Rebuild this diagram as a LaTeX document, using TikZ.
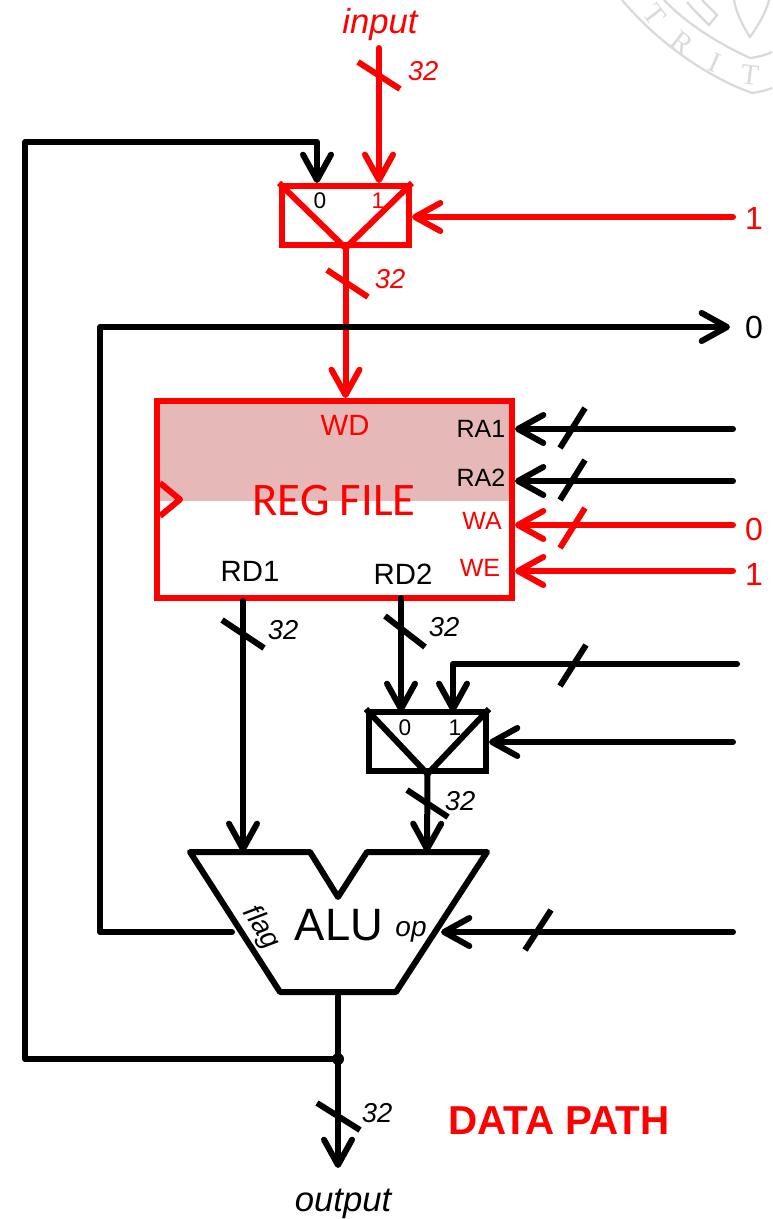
\documentclass[tikz,border=0pt]{standalone}
\usepackage{fontspec}
\setmainfont{Liberation Sans}
\newfontfamily\carlito{Carlito}
\newfontfamily\sealfont{Liberation Serif}
\usetikzlibrary{arrows.meta}
\def\px{0.75pt}
\definecolor{regred}{RGB}{255,0,0}
\definecolor{regshade}{RGB}{230,184,183}
\definecolor{sealgray}{RGB}{218,218,218}
\tikzset{
  wire/.style={line width=6*\px,line cap=round,line join=round},
  redwire/.style={wire,draw=regred},
  sealline/.style={sealgray,line width=1.7pt},
  box/.style={draw,line width=6*\px,inner sep=0pt,miter limit=10},
  muxbox/.style={box,minimum width=127*\px,minimum height=59*\px},
  lbl/.style={inner sep=0pt,font=\fontsize{18.75}{25}\selectfont},
  width/.style={inner sep=0pt,font=\fontsize{20.5}{25}\selectfont\itshape},
  pin/.style={inner sep=0pt,font=\fontsize{17}{20}\selectfont}
}
\begin{document}
\begin{tikzpicture}[x=\px,y=-\px,>={Straight Barb[length=19pt,width=21pt,round]}]
\useasboundingbox (0,0) rectangle (772,1219);
% seal in the corner
\draw[sealline](622,0)..controls(660,45)and(710,78)..(752,93)..controls(760,92)and(767,90)..(772,88);
\draw[sealline](664,0)..controls(685,22)and(715,42)..(750,58)..controls(758,57)and(766,55)..(772,52);
\draw[sealline](734,0)..controls(736,13)and(744,28)..(750,37)..controls(757,27)and(766,13)..(769,0);
\draw[sealline](687,2)--(694,10)--(709,25)--(717,15)--(702,0);
\foreach \letter/\xx/\yy/\ang/\nm in {T/655/15/-53/a,R/682/43/-38/b,I/715/63/-24/c,T/750/75/-7/d}
{
    \node[sealgray,inner sep=0pt,font=\fontsize{22}{24}\selectfont\sealfont,rotate=\ang](seal\nm) at (\xx,\yy){\letter};
}

% free ends
\coordinate (inp) at (379,48);
\coordinate (muxa0) at (317,142);
\coordinate (sela) at (733,217);
\coordinate (flagout) at (730,327);
\coordinate (ra1) at (733,429);
\coordinate (ra2) at (733,481);
\coordinate (wa) at (733,525);
\coordinate (we) at (733,571);
\coordinate (imm) at (737,664);
\coordinate (selb) at (733,742);
\coordinate (opin) at (733,932);
\coordinate (flagpin) at (232,932);
\coordinate (outpin) at (338,992);
\coordinate (tap) at (338,1059);
\coordinate (outend) at (338,1168);

% register file
\fill[regshade](157,401)rectangle(512,501);
\node[box,draw=regred,minimum width=355*\px,minimum height=197*\px](regfile) at (334.5,499.5){};
\draw[redwire,line cap=butt](160,483)--(180,499.5)--(160,516);
\node[inner sep=0pt,text=regred,font=\fontsize{35}{42}\selectfont\carlito](regname) at (334,501){REG FILE};

% muxes
\node[muxbox,draw=regred](muxa) at (345.5,215.5){};
\draw[redwire,line cap=butt](muxa.north west)--(muxa.south)--(muxa.north east);
\node[muxbox,draw=black,minimum width=117*\px](muxb) at (427.5,741.5){};
\draw[wire,line cap=butt](muxb.north west)--(muxb.south)--(muxb.north east);

% ALU
\draw[wire](190,852)--(310,852)--(338,897)--(367,852)--(487,852)--(396,992)--(280,992)--cycle;
\coordinate (alua) at (243,852);
\coordinate (alub) at (427,852);
\coordinate (aluop) at (441,932);

% red wires
\draw[redwire,->](inp)--(inp |- muxa.north);
\draw[redwire,->](sela)--(sela -| muxa.east);
\draw[redwire,->](muxa.south)--(muxa.south |- regfile.north);
\draw[redwire,->](wa)--(wa -| regfile.east);
\draw[redwire,->](we)--(we -| regfile.east);

% black wires
\draw[wire,->](tap)--(25,1059)--(25,142)--(muxa0)--(muxa0 |- muxa.north);
\draw[wire,->](flagpin)--(100,932)--(100,327)--(flagout);
\draw[wire,->](ra1)--(ra1 -| regfile.east);
\draw[wire,->](ra2)--(ra2 -| regfile.east);
\draw[wire,->](alua |- regfile.south)--(alua);
\draw[wire,->](401,598)--(401,712);
\draw[wire,->](imm)--(453,664)--(453,712);
\draw[wire,->](selb)--(selb -| muxb.east);
\draw[wire,->](muxb.south)--(alub);
\draw[wire,->](opin)--(aluop);
\draw[wire,->](outpin)--(outend);
\fill (tap) circle(6*\px);

% bus ticks
\foreach \a/\b/\c/\d in {358/62/400/89,327/270/368/297,560/548/585/508}
{
    \draw[redwire,line cap=butt](\a,\b)--(\c,\d);
}
\foreach \a/\b/\c/\d in {222/620/264/648,385/616/425/647,407/790/448/817,317/1103/360/1130,560/448/585/408,560/500/585/460,560/686/586/645,525/950/551/910}
{
    \draw[wire,line cap=butt](\a,\b)--(\c,\d);
}

% texts
\node[inner sep=0pt,text=regred,font=\fontsize{26}{32}\selectfont\itshape](lblinput) at (380,25){input};
\node[inner sep=0pt,font=\fontsize{26}{32}\selectfont\itshape](lbloutput) at (343,1204){output};
\node[width,text=regred](w1) at (423,71){32};
\node[width,text=regred](w2) at (390,279){32};
\node[width](w3) at (283,630){32};
\node[width](w4) at (444,627){32};
\node[width](w5) at (460,801){32};
\node[width](w6) at (377,1113){32};
\node[pin](pa0) at (320,201){0};
\node[pin,text=regred](pa1) at (378,201){1};
\node[pin](pb0) at (405,728){0};
\node[pin](pb1) at (455,728){1};
\node[inner sep=0pt,text=regred,font=\fontsize{24}{28}\selectfont](v1) at (754,218){1};
\node[inner sep=0pt,font=\fontsize{24}{28}\selectfont](v2) at (754,327){0};
\node[inner sep=0pt,text=regred,font=\fontsize{24}{28}\selectfont](v3) at (754,529){0};
\node[inner sep=0pt,text=regred,font=\fontsize{24}{28}\selectfont](v4) at (754,574){1};
\node[inner sep=0pt,text=regred,font=\fontsize{22}{26}\selectfont](wd) at (345,425){WD};
\node[lbl](lra1) at (481,429){RA1};
\node[lbl](lra2) at (481,478){RA2};
\node[lbl,text=regred](lwa) at (482,521){WA};
\node[lbl,text=regred](lwe) at (480,568){WE};
\node[inner sep=0pt,font=\fontsize{22}{26}\selectfont](rd1) at (250,571){RD1};
\node[inner sep=0pt,font=\fontsize{22}{26}\selectfont](rd2) at (403,574){RD2};
\node[inner sep=0pt,font=\fontsize{34}{40}\selectfont](alu) at (339,925){ALU};
\node[inner sep=0pt,font=\fontsize{21}{24}\selectfont\itshape,rotate=-58](lflag) at (261,928){flag};
\node[inner sep=0pt,font=\fontsize{21}{24}\selectfont\itshape](lop) at (411,932){op};
\node[inner sep=0pt,text=regred,font=\fontsize{30.3}{36}\selectfont\bfseries](title) at (559,1121){DATA PATH};
\end{tikzpicture}
\end{document}
